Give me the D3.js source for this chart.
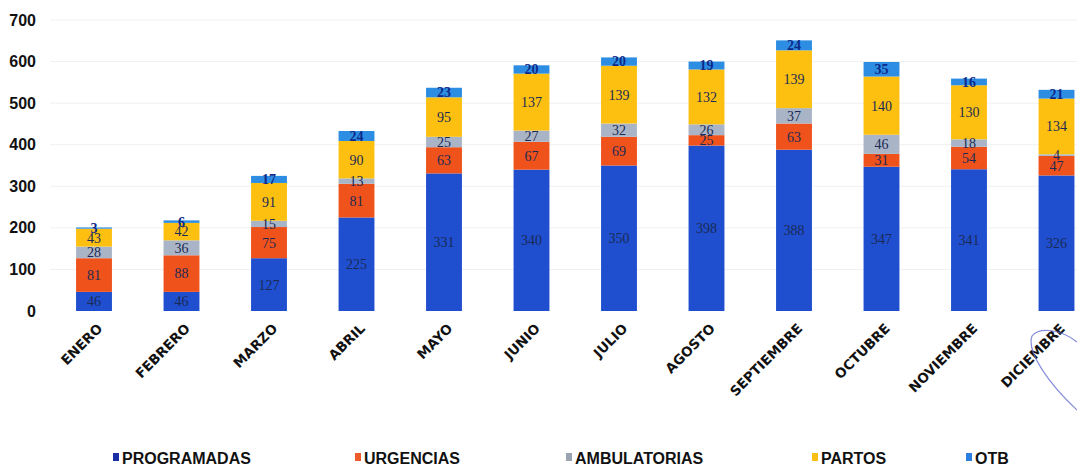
<!DOCTYPE html>
<html><head><meta charset="utf-8">
<script src="https://cdn.jsdelivr.net/npm/d3@7"></script>
<style>
html,body{margin:0;padding:0;background:#fff;}
svg{display:block;}
</style></head>
<body>
<svg id="chart" width="1077" height="469"></svg>
<script>
const months = ["ENERO","FEBRERO","MARZO","ABRIL","MAYO","JUNIO","JULIO","AGOSTO","SEPTIEMBRE","OCTUBRE","NOVIEMBRE","DICIEMBRE"];
const seriesNames = ["PROGRAMADAS","URGENCIAS","AMBULATORIAS","PARTOS","OTB"];
const programadas  = [46, 46, 127, 225, 331, 340, 350, 398, 388, 347, 341, 326];
const urgencias    = [81, 88, 75, 81, 63, 67, 69, 25, 63, 31, 54, 47];
const ambulatorias = [28, 36, 15, 13, 25, 27, 32, 26, 37, 46, 18, 4];
const partos       = [43, 42, 91, 90, 95, 137, 139, 132, 139, 140, 130, 134];
const otb          = [3, 6, 17, 24, 23, 20, 20, 19, 24, 35, 16, 21];
const yTicks = [0, 100, 200, 300, 400, 500, 600, 700];

const colors = ["#1f4fcf", "#f0521c", "#a9b5c6", "#fdc010", "#2d8de2"];
const legendColors = ["#1a2ea6", "#ee5a2a", "#9aa3b0", "#fbbf12", "#2b7fe0"];

const table = months.map((m, i) => ({
  month: m,
  PROGRAMADAS: programadas[i], URGENCIAS: urgencias[i], AMBULATORIAS: ambulatorias[i],
  PARTOS: partos[i], OTB: otb[i]
}));

const svg = d3.select("#chart");
const x = d3.scaleBand().domain(months).range([50.25, 1100.25]).paddingInner(0.59).paddingOuter(0.295);
const y = d3.scaleLinear().domain([0, 700]).range([311, 20]);

// gridlines
svg.append("g").selectAll("line").data(yTicks.slice(1)).join("line")
  .attr("x1", 50).attr("x2", 1077)
  .attr("y1", d => y(d)).attr("y2", d => y(d))
  .attr("stroke", "#f0f0f2").attr("stroke-width", 1);

// y axis
const yAxis = d3.axisLeft(y).tickValues(yTicks).tickSize(0).tickPadding(0);
const yg = svg.append("g").attr("transform", "translate(36,0)").call(yAxis);
yg.select(".domain").remove();
yg.selectAll("text").attr("font-family", "Liberation Sans, Arial, sans-serif")
  .attr("font-weight", "bold").attr("font-size", "16px").attr("fill", "#111");

const stack = d3.stack().keys(seriesNames)(table);

const layers = svg.append("g").selectAll("g").data(stack).join("g")
  .attr("fill", (d, i) => colors[i]);
layers.selectAll("rect").data(d => d).join("rect")
  .attr("x", d => x(d.data.month))
  .attr("width", x.bandwidth())
  .attr("y", d => y(d[1]))
  .attr("height", d => y(d[0]) - y(d[1]));

// value labels
const lbl = svg.append("g").selectAll("g").data(stack).join("g");
lbl.each(function(layer, li) {
  d3.select(this).selectAll("text").data(layer).join("text")
    .attr("x", d => x(d.data.month) + x.bandwidth() / 2)
    .attr("y", d => (y(d[0]) + y(d[1])) / 2)
    .attr("dy", "0.35em")
    .attr("text-anchor", "middle")
    .attr("font-family", "Liberation Serif, Times New Roman, serif")
    .attr("font-size", "14px")
    .attr("font-weight", li === 4 ? "bold" : "normal")
    .attr("fill", li === 4 ? "#0d2a8a" : "#1b2a55")
    .text(d => d[1] - d[0]);
});

// x axis labels
const xAxis = d3.axisBottom(x).tickSize(0).tickPadding(0);
const xg = svg.append("g").attr("transform", "translate(0,311)").call(xAxis);
xg.select(".domain").remove();
xg.selectAll("text")
  .attr("font-family", "DejaVu Sans, Verdana, sans-serif")
  .attr("font-weight", "bold").attr("font-size", "13.5px").attr("fill", "#111")
  .attr("text-anchor", "end")
  .attr("transform", "translate(6,15) rotate(-45)")
  .attr("dy", "0.35em").attr("y", 0).attr("x", 0);

// legend
const legendX = [113, 355, 566, 812, 966];
const lg = svg.append("g").selectAll("g").data(seriesNames).join("g")
  .attr("transform", (d, i) => `translate(${legendX[i]},458)`);
lg.append("rect").attr("x", 0).attr("y", -5).attr("width", 6).attr("height", 8)
  .attr("fill", (d, i) => legendColors[i]);
lg.append("text").attr("x", 9).attr("y", 0).attr("dy", "0.35em")
  .attr("font-family", "Liberation Sans, Arial, sans-serif")
  .attr("font-weight", "bold").attr("font-size", "16px").attr("fill", "#111")
  .text(d => d);

// pen mark artifact
svg.append("path")
  .attr("d", "M1077,342 C1062,330 1040,326 1032,336 C1026,352 1050,385 1077,410")
  .attr("fill", "none").attr("stroke", "#6a6fd0").attr("stroke-width", 1.2).attr("opacity", 0.8);
</script>
</body></html>
